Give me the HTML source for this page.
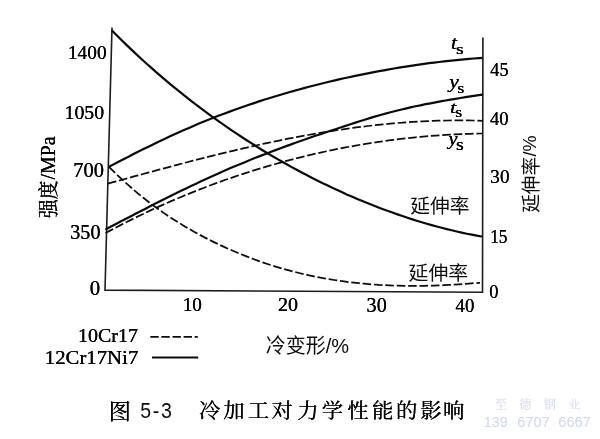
<!DOCTYPE html>
<html lang="zh-CN">
<head>
<meta charset="utf-8">
<title>图 5-3 冷加工对力学性能的影响</title>
<style>
html,body{margin:0;padding:0;background:#fff;}
body{width:600px;height:439px;overflow:hidden;}
svg{display:block;}
.t{fill:#000;stroke:#000;stroke-width:0.08px;}
.n{fill:#0d0d0d;}
.w{fill:#cfd7f6;}
.ax{stroke:#1c1c1c;stroke-width:1.6;fill:none;stroke-linejoin:miter;}
.s{stroke:#0a0a0a;stroke-width:2.2;fill:none;}
.d{stroke:#0c0c0c;stroke-width:1.75;fill:none;stroke-dasharray:8.6 2.8;}
</style>
</head>
<body>
<svg width="600" height="439" viewBox="0 0 600 439">
<defs>
<filter id="bh" filterUnits="userSpaceOnUse" x="0" y="0" width="600" height="439"><feOffset dx="0.4" dy="0" result="o"/><feMerge><feMergeNode in="SourceGraphic"/><feMergeNode in="o"/></feMerge></filter>
<filter id="bv" filterUnits="userSpaceOnUse" x="0" y="0" width="600" height="439"><feOffset dx="0" dy="0.4" result="o"/><feMerge><feMergeNode in="SourceGraphic"/><feMergeNode in="o"/></feMerge></filter>
</defs>
<rect x="0" y="0" width="600" height="439" fill="#ffffff"/>
<path class="ax" d="M112,27.5 L105,290.1 L482.5,292.3 L482.9,37.5"/>
<path class="s" d="M111.7,30.3 L116.7,35.3 L121.7,40.3 L126.7,45.1 L131.7,49.9 L136.7,54.6 L141.7,59.2 L146.7,63.8 L151.7,68.2 L156.7,72.6 L161.7,76.9 L166.7,81.2 L171.7,85.3 L176.7,89.4 L181.7,93.4 L186.7,97.4 L191.7,101.3 L196.7,105.1 L201.7,108.9 L206.7,112.6 L211.7,116.3 L216.7,119.8 L221.7,123.4 L226.7,126.9 L231.7,130.3 L236.7,133.7 L241.7,137.0 L246.7,140.2 L251.7,143.4 L256.7,146.6 L261.7,149.7 L266.7,152.7 L271.7,155.7 L276.7,158.6 L281.7,161.5 L286.7,164.3 L291.7,167.1 L296.7,169.8 L301.7,172.5 L306.7,175.1 L311.7,177.7 L316.7,180.2 L321.7,182.7 L326.7,185.1 L331.7,187.5 L336.7,189.8 L341.7,192.1 L346.7,194.4 L351.7,196.5 L356.7,198.7 L361.7,200.8 L366.7,202.8 L371.7,204.8 L376.7,206.8 L381.7,208.7 L386.7,210.5 L391.7,212.3 L396.7,214.1 L401.7,215.8 L406.7,217.5 L411.7,219.1 L416.7,220.7 L421.7,222.2 L426.7,223.7 L431.7,225.1 L436.7,226.5 L441.7,227.8 L446.7,229.1 L451.7,230.3 L456.7,231.5 L461.7,232.6 L466.7,233.7 L471.7,234.7 L476.7,235.6 L481.7,236.5 L482.0,236.6"/>
<path class="s" d="M109.0,166.8 L114.0,164.1 L119.0,161.5 L124.0,158.9 L129.0,156.4 L134.0,153.8 L139.0,151.3 L144.0,148.8 L149.0,146.4 L154.0,143.9 L159.0,141.5 L164.0,139.2 L169.0,136.8 L174.0,134.6 L179.0,132.3 L184.0,130.1 L189.0,127.9 L194.0,125.7 L199.0,123.6 L204.0,121.6 L209.0,119.6 L214.0,117.6 L219.0,115.6 L224.0,113.7 L229.0,111.9 L234.0,110.0 L239.0,108.2 L244.0,106.5 L249.0,104.8 L254.0,103.1 L259.0,101.4 L264.0,99.8 L269.0,98.3 L274.0,96.7 L279.0,95.2 L284.0,93.7 L289.0,92.3 L294.0,90.9 L299.0,89.5 L304.0,88.1 L309.0,86.8 L314.0,85.5 L319.0,84.2 L324.0,83.0 L329.0,81.8 L334.0,80.6 L339.0,79.4 L344.0,78.3 L349.0,77.2 L354.0,76.1 L359.0,75.1 L364.0,74.1 L369.0,73.1 L374.0,72.1 L379.0,71.2 L384.0,70.3 L389.0,69.4 L394.0,68.5 L399.0,67.7 L404.0,66.9 L409.0,66.1 L414.0,65.3 L419.0,64.6 L424.0,63.9 L429.0,63.2 L434.0,62.6 L439.0,62.0 L444.0,61.4 L449.0,60.8 L454.0,60.3 L459.0,59.8 L464.0,59.3 L469.0,58.9 L474.0,58.5 L479.0,58.1 L482.5,57.8"/>
<path class="s" d="M105.5,229.4 L110.5,226.8 L115.5,224.2 L120.5,221.6 L125.5,219.0 L130.5,216.4 L135.5,213.8 L140.5,211.3 L145.5,208.7 L150.5,206.1 L155.5,203.6 L160.5,201.0 L165.5,198.5 L170.5,196.0 L175.5,193.5 L180.5,191.1 L185.5,188.7 L190.5,186.3 L195.5,183.9 L200.5,181.5 L205.5,179.2 L210.5,176.9 L215.5,174.7 L220.5,172.5 L225.5,170.3 L230.5,168.1 L235.5,166.0 L240.5,163.9 L245.5,161.9 L250.5,159.8 L255.5,157.8 L260.5,155.9 L265.5,153.9 L270.5,152.0 L275.5,150.1 L280.5,148.2 L285.5,146.4 L290.5,144.6 L295.5,142.8 L300.5,141.0 L305.5,139.3 L310.5,137.5 L315.5,135.8 L320.5,134.2 L325.5,132.5 L330.5,130.8 L335.5,129.2 L340.5,127.5 L345.5,125.9 L350.5,124.3 L355.5,122.6 L360.5,121.0 L365.5,119.5 L370.5,117.9 L375.5,116.4 L380.5,115.0 L385.5,113.6 L390.5,112.3 L395.5,111.0 L400.5,109.7 L405.5,108.6 L410.5,107.4 L415.5,106.3 L420.5,105.3 L425.5,104.2 L430.5,103.3 L435.5,102.3 L440.5,101.4 L445.5,100.5 L450.5,99.7 L455.5,98.8 L460.5,98.0 L465.5,97.2 L470.5,96.4 L475.5,95.7 L480.5,94.9 L482.5,94.6"/>
<path class="d" d="M108.0,183.6 L113.0,182.2 L118.0,180.9 L123.0,179.5 L128.0,178.1 L133.0,176.7 L138.0,175.4 L143.0,174.0 L148.0,172.7 L153.0,171.3 L158.0,169.9 L163.0,168.6 L168.0,167.3 L173.0,165.9 L178.0,164.6 L183.0,163.3 L188.0,162.0 L193.0,160.7 L198.0,159.4 L203.0,158.2 L208.0,156.9 L213.0,155.6 L218.0,154.4 L223.0,153.2 L228.0,152.0 L233.0,150.8 L238.0,149.6 L243.0,148.4 L248.0,147.3 L253.0,146.2 L258.0,145.0 L263.0,143.9 L268.0,142.9 L273.0,141.8 L278.0,140.8 L283.0,139.7 L288.0,138.7 L293.0,137.8 L298.0,136.8 L303.0,135.9 L308.0,135.0 L313.0,134.1 L318.0,133.2 L323.0,132.4 L328.0,131.6 L333.0,130.8 L338.0,130.0 L343.0,129.3 L348.0,128.6 L353.0,127.9 L358.0,127.2 L363.0,126.6 L368.0,126.0 L373.0,125.4 L378.0,124.9 L383.0,124.4 L388.0,123.9 L393.0,123.4 L398.0,123.0 L403.0,122.6 L408.0,122.2 L413.0,121.9 L418.0,121.6 L423.0,121.3 L428.0,121.1 L433.0,120.9 L438.0,120.7 L443.0,120.6 L448.0,120.5 L453.0,120.4 L458.0,120.4 L463.0,120.4 L468.0,120.4 L473.0,120.5 L478.0,120.6 L482.5,120.8"/>
<path class="d" d="M105.5,233.0 L110.5,230.4 L115.5,227.7 L120.5,225.1 L125.5,222.6 L130.5,220.1 L135.5,217.6 L140.5,215.2 L145.5,212.8 L150.5,210.4 L155.5,208.1 L160.5,205.9 L165.5,203.6 L170.5,201.4 L175.5,199.3 L180.5,197.2 L185.5,195.1 L190.5,193.1 L195.5,191.1 L200.5,189.1 L205.5,187.2 L210.5,185.3 L215.5,183.4 L220.5,181.6 L225.5,179.8 L230.5,178.1 L235.5,176.4 L240.5,174.7 L245.5,173.1 L250.5,171.5 L255.5,169.9 L260.5,168.4 L265.5,166.9 L270.5,165.4 L275.5,164.0 L280.5,162.6 L285.5,161.2 L290.5,159.9 L295.5,158.6 L300.5,157.3 L305.5,156.1 L310.5,154.9 L315.5,153.7 L320.5,152.6 L325.5,151.5 L330.5,150.4 L335.5,149.4 L340.5,148.4 L345.5,147.4 L350.5,146.5 L355.5,145.6 L360.5,144.7 L365.5,143.9 L370.5,143.1 L375.5,142.3 L380.5,141.6 L385.5,140.9 L390.5,140.2 L395.5,139.6 L400.5,138.9 L405.5,138.4 L410.5,137.8 L415.5,137.3 L420.5,136.8 L425.5,136.4 L430.5,136.0 L435.5,135.6 L440.5,135.2 L445.5,134.9 L450.5,134.6 L455.5,134.3 L460.5,134.1 L465.5,133.9 L470.5,133.8 L475.5,133.6 L480.5,133.5 L482.5,133.5"/>
<path class="d" d="M109.0,166.8 L114.0,171.8 L119.0,176.6 L124.0,181.2 L129.0,185.7 L134.0,190.1 L139.0,194.3 L144.0,198.3 L149.0,202.2 L154.0,206.0 L159.0,209.6 L164.0,213.1 L169.0,216.5 L174.0,219.7 L179.0,222.9 L184.0,225.9 L189.0,228.8 L194.0,231.7 L199.0,234.4 L204.0,237.1 L209.0,239.6 L214.0,242.1 L219.0,244.5 L224.0,246.9 L229.0,249.1 L234.0,251.3 L239.0,253.4 L244.0,255.4 L249.0,257.4 L254.0,259.3 L259.0,261.1 L264.0,262.8 L269.0,264.5 L274.0,266.1 L279.0,267.6 L284.0,269.0 L289.0,270.4 L294.0,271.7 L299.0,273.0 L304.0,274.2 L309.0,275.3 L314.0,276.4 L319.0,277.4 L324.0,278.3 L329.0,279.2 L334.0,280.0 L339.0,280.7 L344.0,281.4 L349.0,282.1 L354.0,282.7 L359.0,283.2 L364.0,283.7 L369.0,284.1 L374.0,284.5 L379.0,284.9 L384.0,285.1 L389.0,285.4 L394.0,285.6 L399.0,285.7 L404.0,285.8 L409.0,285.9 L414.0,285.9 L419.0,285.9 L424.0,285.8 L429.0,285.7 L434.0,285.6 L439.0,285.4 L444.0,285.2 L449.0,284.9 L454.0,284.7 L459.0,284.3 L464.0,284.0 L469.0,283.6 L474.0,283.2 L479.0,282.8 L480.0,282.7"/>
<path class="d" d="M150.3,336.8 L197.8,336.8" style="stroke-dasharray:8.4 2.7;stroke-width:1.8"/>
<path class="s" d="M152,357.5 L198.2,357.5" style="stroke-width:2.2"/>
<g filter="url(#bh)">
<text class="t" transform="translate(67.96,58.64) scale(1.06,1)" style="font-family:'Liberation Serif','Noto Serif CJK SC',serif;font-size:18.24px">1400</text>
<text class="t" transform="translate(64.51,119.17) scale(1.04,1)" style="font-family:'Liberation Serif','Noto Serif CJK SC',serif;font-size:19.04px">1050</text>
<text class="t" transform="translate(73.26,177.15) scale(1.02,1)" style="font-family:'Liberation Serif','Noto Serif CJK SC',serif;font-size:20.07px">700</text>
<text class="t" transform="translate(70.29,239.39) scale(0.99,1)" style="font-family:'Liberation Serif','Noto Serif CJK SC',serif;font-size:20.3px">350</text>
<text class="t" transform="translate(89.87,294.89) scale(1.02,1)" style="font-family:'Liberation Serif','Noto Serif CJK SC',serif;font-size:20.45px">0</text>
<text class="t" transform="translate(182.72,310.91) scale(0.99,1)" style="font-family:'Liberation Serif','Noto Serif CJK SC',serif;font-size:19.41px">10</text>
<text class="t" transform="translate(278,311.31) scale(1.02,1)" style="font-family:'Liberation Serif','Noto Serif CJK SC',serif;font-size:19.7px">20</text>
<text class="t" transform="translate(366.59,311.65) scale(1.01,1)" style="font-family:'Liberation Serif','Noto Serif CJK SC',serif;font-size:19.93px">30</text>
<text class="t" transform="translate(455.62,312.21) scale(0.97,1)" style="font-family:'Liberation Serif','Noto Serif CJK SC',serif;font-size:19.4px">40</text>
<text class="t" transform="translate(490.34,75.87) scale(1,1)" style="font-family:'Liberation Serif','Noto Serif CJK SC',serif;font-size:18.11px">45</text>
<text class="t" transform="translate(490.08,125.04) scale(1.03,1)" style="font-family:'Liberation Serif','Noto Serif CJK SC',serif;font-size:17.99px">40</text>
<text class="t" transform="translate(490.34,183.18) scale(1.04,1)" style="font-family:'Liberation Serif','Noto Serif CJK SC',serif;font-size:18.43px">30</text>
<text class="t" transform="translate(490.15,242.62) scale(0.95,1)" style="font-family:'Liberation Serif','Noto Serif CJK SC',serif;font-size:18.21px">15</text>
<text class="t" transform="translate(489.37,297.91) scale(0.95,1)" style="font-family:'Liberation Serif','Noto Serif CJK SC',serif;font-size:19.33px">0</text>
<text class="t" transform="translate(451.04,49.21) scale(1.13,1)" style="font-family:'Liberation Serif','Noto Serif CJK SC',serif;font-style:italic;font-size:19.12px">t</text>
<text class="t" transform="translate(456.1,54.24) scale(1.28,1)" style="font-family:'Liberation Serif','Noto Serif CJK SC',serif;font-size:15.62px">s</text>
<text class="t" transform="translate(449.23,87.98) scale(1.16,1)" style="font-family:'Liberation Serif','Noto Serif CJK SC',serif;font-style:italic;font-size:18.66px">y</text>
<text class="t" transform="translate(457.37,93.35) scale(1.21,1)" style="font-family:'Liberation Serif','Noto Serif CJK SC',serif;font-size:15.1px">s</text>
<text class="t" transform="translate(450.09,112.92) scale(1.29,1)" style="font-family:'Liberation Serif','Noto Serif CJK SC',serif;font-style:italic;font-size:17.54px">t</text>
<text class="t" transform="translate(455.29,117.34) scale(1.14,1)" style="font-family:'Liberation Serif','Noto Serif CJK SC',serif;font-size:15.62px">s</text>
<text class="t" transform="translate(448.53,144.83) scale(1.09,1)" style="font-family:'Liberation Serif','Noto Serif CJK SC',serif;font-style:italic;font-size:18.66px">y</text>
<text class="t" transform="translate(456.1,150.43) scale(1.19,1)" style="font-family:'Liberation Serif','Noto Serif CJK SC',serif;font-size:16.87px">s</text>
<text class="t" transform="translate(77.9,341.83) scale(1.08,1)" style="font-family:'Liberation Serif','Noto Serif CJK SC',serif;font-size:18.53px">10Cr17</text>
<text class="t" transform="translate(44.84,363.81) scale(1.07,1)" style="font-family:'Liberation Serif','Noto Serif CJK SC',serif;font-size:19.41px">12Cr17Ni7</text>
<text class="t" transform="translate(108.85,418.66) scale(1.02,1)" style="font-family:'Liberation Serif','Noto Serif CJK SC',serif;font-weight:400;font-size:21.78px">图</text>
<text class="t" x="199.09 223.31 247.8 271.41 297.33 321.69 347.19 372.11 396.07 420.3 442.98" y="0" transform="translate(0,418.1) scale(1,0.94)" style="font-family:'Liberation Serif','Noto Serif CJK SC',serif;font-weight:400;font-size:21.4px">冷加工对力学性能的影响</text>
</g>
<g filter="url(#bv)">
<text class="t" transform="translate(55.59,218.07) rotate(-90) scale(0.94,1)" style="font-family:'Liberation Serif','Noto Serif CJK SC',serif;font-size:20.11px">强度</text>
<text class="t" transform="translate(55.09,179.6) rotate(-90) scale(0.95,1)" style="font-family:'Liberation Serif','Noto Serif CJK SC',serif;font-size:21.06px">/MPa</text>
</g>
<text class="n" transform="translate(410.21,213.24) scale(1.01,1)" style="font-family:'Liberation Sans','Noto Sans CJK SC',sans-serif;font-size:19.57px">延伸率</text>
<text class="n" transform="translate(408.51,279.5) scale(1.05,1)" style="font-family:'Liberation Sans','Noto Sans CJK SC',sans-serif;font-size:18.94px">延伸率</text>
<text class="n" transform="translate(538.31,212.75) rotate(-90) scale(0.99,1)" style="font-family:'Liberation Sans','Noto Sans CJK SC',sans-serif;font-size:18.83px">延伸率</text>
<text class="n" transform="translate(536.32,156.5) rotate(-90) scale(0.99,1)" style="font-family:'Liberation Sans','Noto Sans CJK SC',sans-serif;font-size:18.24px">/%</text>
<text class="n" transform="translate(265.8,353.2) scale(1,1)" style="font-family:'Liberation Sans','Noto Sans CJK SC',sans-serif;font-size:20px">冷变形/%</text>
<text class="n" transform="translate(140.22,418.38) scale(0.89,1)" style="font-family:'Liberation Sans','Noto Sans CJK SC',sans-serif;letter-spacing:0.09em;font-size:21.97px">5-3</text>
<text class="w" transform="translate(483.86,427.45) scale(0.96,1)" style="font-family:'Liberation Sans','Noto Sans CJK SC',sans-serif;font-size:14.93px">139</text>
<text class="w" transform="translate(517.27,427.45) scale(0.98,1)" style="font-family:'Liberation Sans','Noto Sans CJK SC',sans-serif;font-size:14.93px">6707</text>
<text class="w" transform="translate(558.27,427.45) scale(0.98,1)" style="font-family:'Liberation Sans','Noto Sans CJK SC',sans-serif;font-size:14.93px">6667</text>
<text class="w" x="494.7 519.1 543.5 567.9" y="408.6" style="font-family:'Liberation Serif','Noto Serif CJK SC',serif;font-size:12.5px">至德钢业</text>
</svg>
</body>
</html>
